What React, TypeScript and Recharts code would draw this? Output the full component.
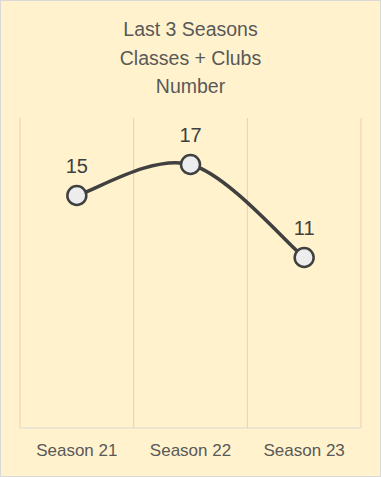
import { LineChart, Line, XAxis, YAxis, CartesianGrid, LabelList } from "recharts";

const seasons = ["Season 21", "Season 22", "Season 23"];
const classesClubs = [15, 17, 11];
const titleLines = ["Last 3 Seasons", "Classes + Clubs", "Number"];

const data = seasons.map((season, i) => ({ season, value: classesClubs[i] }));

const FONT = "'Liberation Sans', Arial, sans-serif";

// Excel-style smoothed line: cubic bezier with 1/6 neighbour tangents
// eslint-disable-next-line @typescript-eslint/no-explicit-any
const excelSmooth = (context: any) => {
  let pts: number[][] = [];
  return {
    areaStart() {},
    areaEnd() {},
    lineStart() {
      pts = [];
    },
    point(x: number, y: number) {
      pts.push([x, y]);
    },
    lineEnd() {
      const n = pts.length;
      if (!n) return;
      context.moveTo(pts[0][0], pts[0][1]);
      for (let i = 0; i < n - 1; i++) {
        const p0 = pts[Math.max(i - 1, 0)];
        const p1 = pts[i];
        const p2 = pts[i + 1];
        const p3 = pts[Math.min(i + 2, n - 1)];
        context.bezierCurveTo(
          p1[0] + (p2[0] - p0[0]) / 6,
          p1[1] + (p2[1] - p0[1]) / 6,
          p2[0] - (p3[0] - p1[0]) / 6,
          p2[1] - (p3[1] - p1[1]) / 6,
          p2[0],
          p2[1]
        );
      }
    },
  };
};

// eslint-disable-next-line @typescript-eslint/no-explicit-any
const renderLabel = (props: any) => {
  const { x, y, value } = props;
  return (
    <text
      x={x}
      y={y - 23}
      textAnchor="middle"
      fill="#404040"
      fontSize={20}
      fontFamily={FONT}
    >
      {value}
    </text>
  );
};

export default function App() {
  return (
    <div
      style={{
        position: "absolute",
        top: 0,
        left: 0,
        width: 381,
        height: 477,
        background: "#FFF2CC",
        fontFamily: FONT,
      }}
    >
      <div
        style={{
          position: "absolute",
          top: 15,
          left: 0,
          width: 381,
          textAlign: "center",
          color: "#595959",
          fontSize: 19.5,
          lineHeight: "28.5px",
        }}
      >
        {titleLines.map((t) => (
          <div key={t}>{t}</div>
        ))}
      </div>
      <LineChart
        width={381}
        height={477}
        data={data}
        margin={{ top: 118, right: 20, bottom: 0, left: 20 }}
      >
        <CartesianGrid
          horizontal={false}
          stroke="#F8CBAD"
          // eslint-disable-next-line @typescript-eslint/no-explicit-any
          verticalCoordinatesGenerator={({ offset }: any) =>
            seasons
              .concat([""])
              .map((_, i) => offset.left + (i * offset.width) / seasons.length)
          }
        />
        <XAxis
          dataKey="season"
          scale="band"
          height={49}
          axisLine={{ stroke: "#D9D9D9" }}
          tickLine={false}
          tickMargin={10}
          tick={{ fill: "#595959", fontSize: 17, fontFamily: FONT }}
        />
        <YAxis hide domain={[0, 20]} />
        <Line
          dataKey="value"
          type={excelSmooth}
          stroke="#404040"
          strokeWidth={3.5}
          dot={{ r: 9.5, fill: "#EDEDED", stroke: "#404040", strokeWidth: 2.5 }}
          activeDot={false}
          isAnimationActive={false}
        >
          <LabelList dataKey="value" content={renderLabel} />
        </Line>
      </LineChart>
      <div
        style={{
          position: "absolute",
          inset: 0,
          border: "1px solid #D9D9D9",
          pointerEvents: "none",
        }}
      />
    </div>
  );
}
